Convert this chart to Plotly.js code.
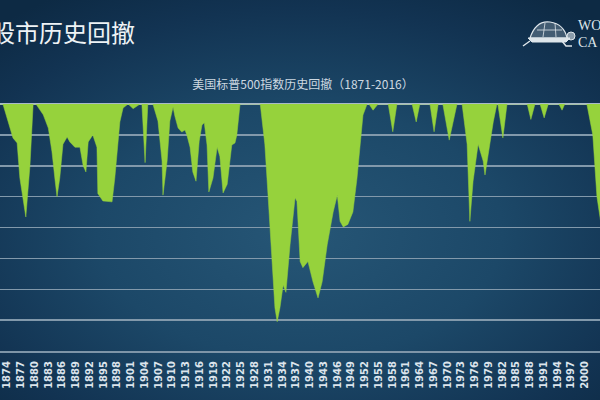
<!DOCTYPE html>
<html>
<head>
<meta charset="utf-8">
<script src="https://cdn.plot.ly/plotly-3.0.1.min.js"></script>
<style>
  html, body { margin: 0; padding: 0; }
  body {
    width: 600px; height: 400px; overflow: hidden;
    background: radial-gradient(ellipse 75% 70% at 50% 58%, #265676 0%, #1c4868 45%, #123352 80%, #0d2a44 100%);
  }
  #chart { width: 600px; height: 400px; }
</style>
</head>
<body>
<div id="chart"></div>
<script>
// Drawdown of the S&P 500 (percent below previous peak)
const years = [
  1871.0, 1873.1, 1875.3, 1876.2, 1876.8, 1878.1, 1879.0, 1879.7,
  1880.3, 1881.9, 1883.0, 1883.8, 1884.5, 1884.9, 1885.5, 1886.2, 1887.1, 1887.7,
  1888.8, 1889.9, 1890.6, 1891.2, 1891.7, 1892.7, 1893.6, 1893.8, 1894.9, 1896.9,
  1897.5, 1898.6, 1899.3, 1900.4, 1901.5, 1903.0, 1903.4, 1904.1, 1904.7,
  1905.8, 1906.9, 1907.8, 1908.0, 1908.9, 1909.5, 1910.2, 1910.6, 1911.3, 1912.1,
  1912.8, 1913.2, 1913.9, 1914.5, 1915.2, 1915.9, 1916.5, 1917.0, 1917.6, 1918.0,
  1918.9, 1919.8, 1920.4, 1921.1, 1922.0, 1923.0, 1923.7, 1924.1, 1924.8,
  1929.2, 1930.2, 1930.9, 1931.8, 1932.4, 1932.9, 1933.5, 1934.2, 1934.8, 1935.7,
  1936.8, 1937.2, 1937.9, 1938.5, 1939.6, 1940.7, 1941.8, 1942.7, 1943.8, 1945.1,
  1946.0, 1946.6, 1947.3, 1948.3, 1949.4, 1950.3, 1951.0, 1951.6, 1952.5,
  1952.9, 1953.8, 1954.9, 1957.1, 1958.1, 1959.0, 1962.3, 1963.2, 1964.0,
  1966.2, 1967.1, 1968.0, 1969.0, 1970.4, 1972.1, 1973.2, 1974.3, 1974.9, 1975.6,
  1976.7, 1977.8, 1978.2, 1978.9, 1980.0, 1980.8, 1981.0, 1982.1, 1983.0,
  1987.4, 1988.2, 1989.1, 1990.2, 1991.1, 1992.0, 1994.3, 1995.0, 1995.6,
  2000.4, 2001.7, 2002.6, 2003.4
];
const drawdown = [
  0, 0, -11, -12.6, -24, -36.6, -20, 0,
  0, -3.5, -7.8, -15.5, -25, -30, -24, -13, -10.7, -12.3,
  -14, -14, -20, -22, -12.3, -10, -14, -29, -31.4, -31.7,
  -24, -5.8, -1.3, 0, -1.5, 0, 0, -19, 0,
  0, -5.5, -18.5, -29.5, -18.5, -5.5, -1, -4, -7.8, -9.1,
  -8.4, -10, -14, -22, -25, -12, -6.8, -6.1, -13.3, -28.5,
  -24, -14, -17, -28.8, -26, -13.3, -12.6, -10, 0,
  0, -13, -29.5, -51, -66, -70.5, -66, -58.6, -61, -45.6,
  -30.4, -31.5, -51, -53, -51, -57.6, -62.8, -57.6, -45.6, -35,
  -29.5, -38, -39.8, -39, -35, -24, -13, -3.6, 0,
  0, -2, 0, 0, -9, 0, 0, -5.8, 0,
  0, -9, 0, 0, -11.7, 0, 0, -13, -38, -25,
  -13, -18.5, -23, -16.5, -5.8, 0, 0, -11, 0,
  0, -5, 0, 0, -4.5, 0, 0, -2, 0,
  0, -10, -30, -38
];
const tickYears = [];
for (let y = 1874; y <= 2003; y += 3) tickYears.push(y);
const tickLabels = tickYears.map(String);

const trace = {
  x: years,
  y: drawdown,
  type: 'scatter',
  mode: 'lines',
  fill: 'tozeroy',
  fillcolor: '#96d23c',
  line: { color: '#96d23c', width: 0.5 },
  hoverinfo: 'skip'
};

const logoColor = '#dde5ea';
const px = v => v / 600;
const py = v => (351 - v) / 247;

const layout = {
  width: 600,
  height: 400,
  margin: { l: 0, r: 0, t: 104, b: 49, pad: 0 },
  paper_bgcolor: 'rgba(0,0,0,0)',
  plot_bgcolor: 'rgba(0,0,0,0)',
  showlegend: false,
  title: {
    text: '美国标普500指数历史回撤（1871-2016）',
    font: { family: 'Noto Sans CJK SC, sans-serif', size: 12, color: '#cdd8e1' },
    x: 0.505, xanchor: 'center',
    y: 1 - 85 / 400, yanchor: 'middle', yref: 'container'
  },
  xaxis: {
    range: [1872.47, 2003.27],
    tickmode: 'array',
    tickvals: tickYears,
    ticktext: tickLabels,
    tickangle: -90,
    tickfont: { family: 'DejaVu Sans, sans-serif', size: 10, color: '#dbe4ec', weight: 'bold' },
    ticks: '',
    ticklabelstandoff: 4,
    showgrid: false,
    zeroline: false,
    showline: true,
    linecolor: '#7e95a8',
    linewidth: 2,
    fixedrange: true
  },
  yaxis: {
    range: [-80, 0],
    dtick: 10,
    showticklabels: false,
    ticks: '',
    showgrid: true,
    gridcolor: '#8299ab',
    gridwidth: 1.5,
    zeroline: true,
    zerolinecolor: '#a9bac8',
    zerolinewidth: 2,
    fixedrange: true
  },
  annotations: [
    {
      text: '股市历史回撤',
      xref: 'paper', yref: 'paper',
      x: px(137), xanchor: 'right',
      y: py(31), yanchor: 'middle',
      showarrow: false,
      font: { family: 'Noto Sans CJK SC, sans-serif', size: 24, color: '#eef3f6' }
    },
    {
      text: 'WO',
      xref: 'paper', yref: 'paper',
      x: px(576), xanchor: 'left',
      y: py(26), yanchor: 'middle',
      showarrow: false,
      font: { family: 'Liberation Serif, serif', size: 14, color: logoColor }
    },
    {
      text: 'CA',
      xref: 'paper', yref: 'paper',
      x: px(576), xanchor: 'left',
      y: py(42), yanchor: 'middle',
      showarrow: false,
      font: { family: 'Liberation Serif, serif', size: 14, color: logoColor }
    }
  ],
  shapes: [
    // turtle shell
    { type: 'path', xref: 'paper', yref: 'paper',
      path: `M ${px(530)} ${py(38)} Q ${px(536)} ${py(20)} ${px(550)} ${py(22)} Q ${px(564)} ${py(24)} ${px(567)} ${py(38)} Z`,
      line: { color: logoColor, width: 1.2 }, fillcolor: 'rgba(220,230,236,0.25)' },
    { type: 'path', xref: 'paper', yref: 'paper',
      path: `M ${px(537)} ${py(30)} L ${px(562)} ${py(30)} M ${px(545)} ${py(23)} L ${px(543)} ${py(37)} M ${px(555)} ${py(23)} L ${px(556)} ${py(37)}`,
      line: { color: logoColor, width: 0.8 } },
    // base / belly
    { type: 'path', xref: 'paper', yref: 'paper',
      path: `M ${px(528)} ${py(38)} L ${px(570)} ${py(38)} L ${px(566)} ${py(42)} L ${px(532)} ${py(42)} Z`,
      line: { color: logoColor, width: 1 }, fillcolor: logoColor },
    // legs
    { type: 'path', xref: 'paper', yref: 'paper',
      path: `M ${px(530)} ${py(41)} L ${px(523)} ${py(46)} M ${px(562)} ${py(41)} L ${px(566)} ${py(46)} L ${px(572)} ${py(46)}`,
      line: { color: logoColor, width: 1.5 } },
    // head
    { type: 'circle', xref: 'paper', yref: 'paper',
      x0: px(567), y0: py(40), x1: px(575), y1: py(32),
      line: { color: logoColor, width: 1 }, fillcolor: 'rgba(220,230,236,0.6)' }
  ]
};

Plotly.newPlot('chart', [trace], layout, { staticPlot: true, displayModeBar: false });
</script>
</body>
</html>
